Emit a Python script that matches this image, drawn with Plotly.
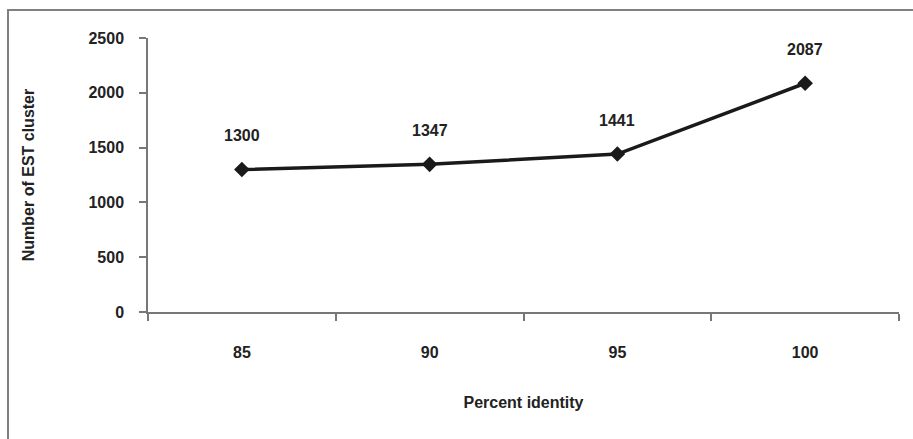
import plotly.graph_objects as go

categories = ["85", "90", "95", "100"]
clusters = [1300, 1347, 1441, 2087]
y_ticks = [0, 500, 1000, 1500, 2000, 2500]

W, H = 913, 439
L, R, T, B = 148, 14, 38, 127
pw = W - L - R
ph = H - T - B

font_bold = dict(family="Liberation Sans, Arial, sans-serif", size=16, color="#222222")

fig = go.Figure()
fig.add_trace(go.Scatter(
    x=categories, y=clusters, mode="lines+markers",
    line=dict(color="#1a1a1a", width=3.5),
    marker=dict(symbol="diamond", size=12, color="#1a1a1a"),
    showlegend=False, hoverinfo="x+y",
))

for i, v in enumerate(clusters):
    fig.add_annotation(x=i, y=v, text="<b>%d</b>" % v, showarrow=False,
                       yshift=34, font=font_bold, xanchor="center", yanchor="middle")

axis_col = "#777777"
fig.update_xaxes(
    type="category", range=[-0.5, 3.5], tickson="boundaries",
    showline=True, linecolor=axis_col, linewidth=1.5,
    ticks="outside", ticklen=7, tickcolor=axis_col, tickwidth=1.5,
    tickfont=font_bold, ticklabelstandoff=25,
    showgrid=False, zeroline=False,
    ticktext=["<b>%s</b>" % c for c in categories], tickvals=categories,
    title=dict(text="<b>Percent identity</b>", font=font_bold, standoff=37),
)
fig.update_yaxes(
    range=[0, 2500], tickvals=y_ticks,
    ticktext=["<b>%d</b>" % t for t in y_ticks],
    showline=True, linecolor=axis_col, linewidth=1.5,
    ticks="outside", ticklen=7, tickcolor=axis_col, tickwidth=1.5,
    tickfont=font_bold, ticklabelstandoff=12,
    showgrid=False, zeroline=False,
    title=dict(text="<b>Number of EST cluster</b>", font=font_bold, standoff=50),
)

# outer frame of the original figure
fig.add_shape(type="rect", xref="paper", yref="paper",
              x0=(8 - L) / pw, x1=(W + 20 - L) / pw,
              y0=-(H + 20 - T - ph) / ph, y1=1 + (T - 10) / ph,
              line=dict(color="#808080", width=2), fillcolor="rgba(0,0,0,0)", layer="below")

fig.update_layout(
    width=W, height=H,
    margin=dict(l=L, r=R, t=T, b=B, autoexpand=False),
    plot_bgcolor="white", paper_bgcolor="white",
    font=font_bold,
)

fig.write_html("out.html", config={"displayModeBar": False},
               post_script="document.body.style.margin='0';document.body.style.overflow='hidden';")
